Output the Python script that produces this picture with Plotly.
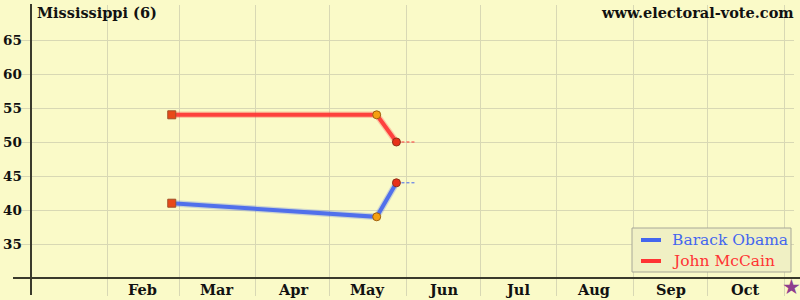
import plotly.graph_objects as go

# ---- data ----
poll_dates = ["2008-02-27", "2008-05-20", "2008-05-28"]
obama = [41, 39, 44]
mccain = [54, 54, 50]
projection_end = "2008-06-05"
election_day = "2008-11-04"
month_starts = ["2008-02-01", "2008-03-01", "2008-04-01", "2008-05-01", "2008-06-01",
                "2008-07-01", "2008-08-01", "2008-09-01", "2008-10-01", "2008-11-01"]
month_mids = ["2008-02-15", "2008-03-16", "2008-04-16", "2008-05-16", "2008-06-16",
              "2008-07-16", "2008-08-16", "2008-09-16", "2008-10-16"]
month_labels = ["Feb", "Mar", "Apr", "May", "Jun", "Jul", "Aug", "Sep", "Oct"]
y_ticks = [35, 40, 45, 50, 55, 60, 65]
candidates = ["Barack Obama", "John McCain"]
title_text = "Mississippi (6)"
site_text = "www.electoral-vote.com"

# ---- styles ----
BG = "#FAFAC8"
GRID = "#D8D8B4"
AXIS = "#3A3A2C"
BLUE = "#4466EE"
RED = "#FF3333"
FONT = "DejaVu Serif"
marker_symbols = ["square", "circle", "circle"]
marker_fill = ["#E84818", "#F5A010", "#E83018"]
marker_line = ["#A05028", "#A06010", "#903018"]

fig = go.Figure()

for name, vals, col in [(candidates[0], obama, BLUE), (candidates[1], mccain, RED)]:
    fig.add_trace(go.Scatter(x=poll_dates, y=vals, mode="lines",
                             line=dict(color=col, width=6.5), opacity=0.25,
                             showlegend=False, hoverinfo="skip"))
    fig.add_trace(go.Scatter(x=poll_dates, y=vals, mode="lines", name=name,
                             line=dict(color=col, width=4), opacity=0.9,
                             showlegend=False))
    fig.add_trace(go.Scatter(x=[poll_dates[-1], projection_end], y=[vals[-1], vals[-1]],
                             mode="lines", line=dict(color=col, width=1, dash="3px,2px"),
                             showlegend=False, hoverinfo="skip"))
    fig.add_trace(go.Scatter(x=poll_dates, y=vals, mode="markers",
                             marker=dict(symbol=marker_symbols, color=marker_fill, size=8,
                                         line=dict(color=marker_line, width=1)),
                             showlegend=False))

# plot-area pixel geometry (for paper-coordinate decorations)
L, R, T, B = 31, 794, 5, 278
def px(x):
    return (x - L) / (R - L)
def py(y):
    return (B - y) / (B - T)

annotations = [
    dict(text=f"<b>{title_text}</b>", xref="paper", yref="paper", x=px(35), y=py(12),
         xanchor="left", yanchor="middle", showarrow=False,
         font=dict(family=FONT, size=14.5, color="#111111")),
    dict(text=f"<b>{site_text}</b>", xref="paper", yref="paper", x=px(796), y=py(12),
         xanchor="right", yanchor="middle", showarrow=False,
         font=dict(family=FONT, size=14.5, color="#111111")),
    dict(text="★", x=election_day, xref="x", yref="paper", y=py(287),
         xanchor="center", yanchor="middle", showarrow=False,
         font=dict(family="DejaVu Sans", size=21, color="#8E3E8E")),
]
for d, lab in zip(month_mids, month_labels):
    annotations.append(dict(text=f"<b>{lab}</b>", x=d, xref="x", yref="paper", y=py(289),
                            xanchor="center", yanchor="middle", showarrow=False,
                            font=dict(family=FONT, size=14.5, color="#111111")))
for v in y_ticks:
    annotations.append(dict(text=f"<b>{v}</b>", x=px(23), xref="paper", y=v, yref="y",
                            xanchor="right", yanchor="middle", showarrow=False,
                            borderpad=0,
                            font=dict(family=FONT, size=13.5, color="#111111")))

shapes = [
    dict(type="line", xref="paper", yref="paper", x0=px(13), x1=px(800), y0=0, y1=0,
         line=dict(color=AXIS, width=2), layer="above"),
    dict(type="line", xref="paper", yref="paper", x0=0, x1=0, y0=py(295), y1=py(4),
         line=dict(color=AXIS, width=2), layer="above"),
    # legend box
    dict(type="rect", xref="paper", yref="paper", x0=px(632), x1=px(791), y0=py(272), y1=py(228),
         fillcolor="#F0F0C4", line=dict(color="#A8A898", width=1), layer="above"),
]
for i, (name, col) in enumerate([(candidates[0], BLUE), (candidates[1], RED)]):
    yy = 240 + 21 * i
    shapes.append(dict(type="line", xref="paper", yref="paper", x0=px(641), x1=px(661),
                       y0=py(yy), y1=py(yy), line=dict(color=col, width=4), layer="above"))
    annotations.append(dict(text=name, xref="paper", yref="paper", x=px(670), y=py(yy),
                            xanchor="left", yanchor="middle", showarrow=False,
                            font=dict(family=FONT, size=15.5, color=col)))

fig.update_layout(
    width=800, height=300,
    margin=dict(l=L, r=800 - R, t=T, b=300 - B),
    paper_bgcolor=BG, plot_bgcolor=BG,
    showlegend=False,
    annotations=annotations,
    shapes=shapes,
    xaxis=dict(type="date", range=["2008-01-01", "2008-11-05"],
               tickvals=month_starts, showticklabels=False, automargin=False,
               showgrid=True, gridcolor=GRID, gridwidth=1,
               ticks="outside", ticklen=17, tickcolor=GRID, tickwidth=1,
               zeroline=False, showline=False),
    yaxis=dict(range=[30, 70.15], tickvals=y_ticks, automargin=False,
               showticklabels=False,
               showgrid=True, gridcolor=GRID, gridwidth=1,
               ticks="outside", ticklen=9, tickcolor=GRID, tickwidth=1,
               zeroline=False, showline=False),
    hovermode=False,
)

fig.write_html("out.html")
